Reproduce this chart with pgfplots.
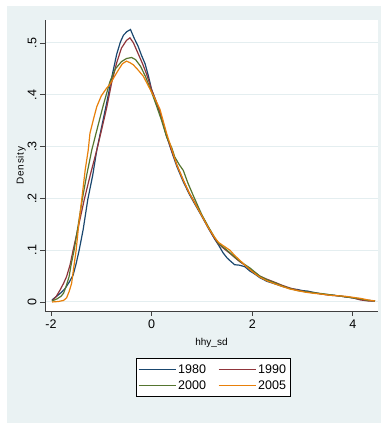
\documentclass[border=0pt]{standalone}
\usepackage{fontspec}
\setmainfont{Liberation Sans}
\newfontfamily\spaced[LetterSpace=8]{Liberation Sans}
\usepackage{pgfplots}
\pgfplotsset{compat=1.18}
\definecolor{bgc}{HTML}{EAF2F3}
\definecolor{gridc}{HTML}{E4EEF0}
\definecolor{snavy}{RGB}{26,71,111}
\definecolor{smaroon}{RGB}{144,53,59}
\definecolor{sgreen}{RGB}{85,117,47}
\definecolor{sorange}{RGB}{232,128,10}
\newcommand{\fs}{\fontsize{12.5}{14}\selectfont}
\begin{document}
\begin{tikzpicture}[x=1pt,y=1pt]
\fill[white] (0,0) rectangle (386,423);
\fill[bgc] (7,0) rectangle (381,417);
\begin{axis}[
  at={(45pt,112pt)}, anchor=south west,
  scale only axis, width=333pt, height=291pt,
  xmin=-2.119, xmax=4.5, ymin=-0.0174, ymax=0.5444,
  axis x line*=bottom, axis y line*=left,
  axis line style={color=black!75, line width=0.8pt},
  axis background/.style={fill=white},
  tick align=outside, major tick length=5pt,
  every tick/.style={color=black!75, line width=0.8pt},
  xtick={-2,0,2,4}, xticklabels={-2,0,2,4},
  ytick={0,0.1,0.2,0.3,0.4,0.5}, yticklabels={0,.1,.2,.3,.4,.5},
  ymajorgrids, grid style={color=gridc, line width=1pt},
  tick label style={font=\fs},
  yticklabel style={rotate=90, anchor=south},
  xlabel={hhy\_sd}, ylabel={\spaced Density},
  label style={font=\fs},
  every axis x label/.style={at={(axis description cs:0.5,-0.11)}, anchor=center},
  every axis y label/.style={at={(axis description cs:-0.072,0.5)}, rotate=90, anchor=center},
  legend columns=2,
  legend style={at={(axis description cs:0.5045,-0.1615)}, anchor=north, draw=black, line width=0.6pt, fill=white, font=\fs, inner xsep=2pt, inner ysep=4pt, row sep=2pt},
  legend cell align=left,
  legend image code/.code={\draw[#1,line width=1.2pt] (0pt,0pt) -- (37pt,0pt);},
  /tikz/every even column/.append style={column sep=10pt},
  every axis plot/.append style={line width=1.2pt},
]
\addplot[color=snavy] coordinates {(-1.98,0.004) (-1.9,0.010) (-1.8,0.018) (-1.72,0.026) (-1.64,0.038) (-1.56,0.052) (-1.5,0.074) (-1.44,0.10) (-1.36,0.14) (-1.27,0.197) (-1.17,0.245) (-1.09,0.293) (-1.0,0.335) (-0.894,0.384) (-0.80,0.43) (-0.695,0.478) (-0.62,0.502) (-0.56,0.515) (-0.49,0.522) (-0.42,0.526) (-0.35,0.51) (-0.27,0.494) (-0.2,0.476) (-0.13,0.46) (-0.06,0.435) (0.0,0.41) (0.08,0.39) (0.166,0.365) (0.3,0.32) (0.4,0.29) (0.5,0.262) (0.63,0.232) (0.75,0.208) (0.83,0.194) (1.0,0.165) (1.13,0.142) (1.25,0.122) (1.33,0.11) (1.42,0.095) (1.5,0.085) (1.556,0.08) (1.65,0.072) (1.75,0.071) (1.855,0.068) (1.95,0.06) (2.05,0.054) (2.15,0.047) (2.29,0.040) (2.45,0.035) (2.6,0.030) (2.75,0.026) (2.9,0.024) (3.0,0.022) (3.1,0.021) (3.25,0.018) (3.4,0.015) (3.54,0.014) (3.7,0.012) (3.85,0.010) (4.0,0.008) (4.15,0.005) (4.3,0.003) (4.44,0.002)};
\addlegendentry{1980}
\addplot[color=smaroon] coordinates {(-1.98,0.002) (-1.9,0.01) (-1.82,0.023) (-1.75,0.036) (-1.69,0.049) (-1.62,0.072) (-1.56,0.10) (-1.45,0.148) (-1.34,0.197) (-1.22,0.245) (-1.09,0.293) (-1.0,0.33) (-0.9,0.372) (-0.79,0.425) (-0.7,0.46) (-0.6,0.49) (-0.5,0.505) (-0.43,0.51) (-0.36,0.50) (-0.27,0.48) (-0.18,0.46) (-0.1,0.44) (0.0,0.41) (0.166,0.367) (0.3,0.32) (0.4,0.292) (0.5,0.265) (0.63,0.235) (0.75,0.21) (0.83,0.197) (1.0,0.167) (1.13,0.143) (1.25,0.123) (1.33,0.112) (1.45,0.102) (1.556,0.094) (1.65,0.086) (1.75,0.078) (1.855,0.071) (1.95,0.064) (2.05,0.057) (2.15,0.05) (2.29,0.044) (2.45,0.038) (2.6,0.032) (2.75,0.027) (2.9,0.023) (3.05,0.02) (3.2,0.018) (3.4,0.015) (3.54,0.013) (3.7,0.012) (3.85,0.01) (4.0,0.008) (4.15,0.004) (4.3,0.002) (4.44,0.002)};
\addlegendentry{1990}
\addplot[color=sgreen] coordinates {(-1.98,0.002) (-1.88,0.006) (-1.8,0.011) (-1.75,0.017) (-1.7,0.03) (-1.64,0.049) (-1.6,0.072) (-1.54,0.10) (-1.46,0.148) (-1.38,0.197) (-1.29,0.245) (-1.19,0.293) (-1.08,0.335) (-0.96,0.38) (-0.83,0.425) (-0.72,0.45) (-0.6,0.464) (-0.5,0.47) (-0.4,0.472) (-0.32,0.468) (-0.22,0.455) (-0.12,0.435) (0.0,0.405) (0.1,0.378) (0.2,0.35) (0.3,0.318) (0.4,0.298) (0.46,0.28) (0.55,0.265) (0.63,0.254) (0.72,0.23) (0.83,0.205) (1.0,0.168) (1.13,0.145) (1.25,0.125) (1.33,0.113) (1.45,0.104) (1.556,0.095) (1.65,0.087) (1.75,0.079) (1.855,0.072) (1.95,0.066) (2.05,0.058) (2.15,0.05) (2.29,0.043) (2.45,0.037) (2.6,0.031) (2.75,0.026) (2.9,0.022) (3.05,0.02) (3.2,0.018) (3.4,0.016) (3.54,0.014) (3.7,0.012) (3.85,0.01) (4.0,0.008) (4.15,0.006) (4.3,0.003) (4.44,0.002)};
\addlegendentry{2000}
\addplot[color=sorange] coordinates {(-1.98,0.0) (-1.85,0.001) (-1.75,0.003) (-1.69,0.008) (-1.64,0.02) (-1.59,0.036) (-1.55,0.065) (-1.5,0.10) (-1.45,0.148) (-1.39,0.197) (-1.32,0.255) (-1.26,0.293) (-1.225,0.326) (-1.15,0.355) (-1.09,0.377) (-1.0,0.398) (-0.9,0.412) (-0.83,0.42) (-0.74,0.435) (-0.66,0.448) (-0.58,0.46) (-0.5,0.465) (-0.43,0.462) (-0.365,0.458) (-0.27,0.448) (-0.166,0.436) (-0.08,0.42) (0.0,0.405) (0.08,0.39) (0.166,0.372) (0.3,0.325) (0.4,0.295) (0.5,0.265) (0.63,0.235) (0.75,0.21) (0.83,0.196) (1.0,0.166) (1.13,0.143) (1.25,0.125) (1.33,0.115) (1.45,0.107) (1.556,0.1) (1.65,0.09) (1.75,0.081) (1.855,0.071) (1.95,0.063) (2.05,0.055) (2.15,0.048) (2.29,0.041) (2.45,0.035) (2.6,0.03) (2.75,0.025) (2.9,0.022) (3.05,0.019) (3.2,0.017) (3.4,0.015) (3.54,0.013) (3.7,0.012) (3.85,0.011) (4.0,0.009) (4.15,0.007) (4.3,0.004) (4.44,0.002)};
\addlegendentry{2005}
\end{axis}
\end{tikzpicture}
\end{document}
